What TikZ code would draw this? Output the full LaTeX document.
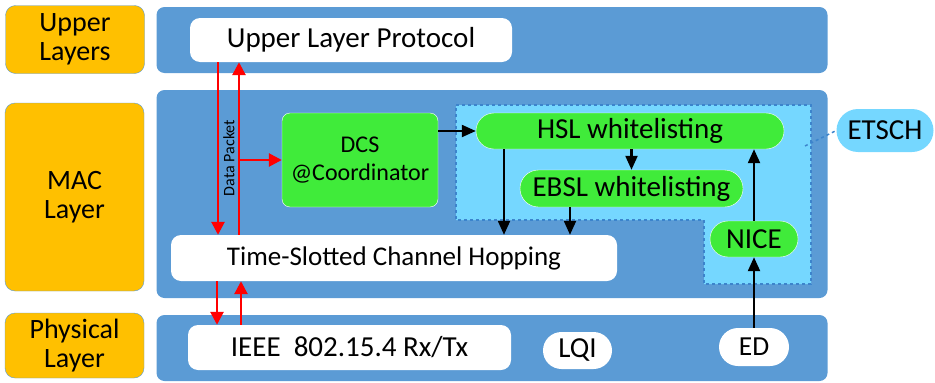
\documentclass[tikz,border=0pt]{standalone}
\usepackage{fontspec}
\setmainfont{Carlito}
\usetikzlibrary{positioning,arrows.meta,calc,shapes.misc}
\definecolor{bandblue}{HTML}{5B9BD5}
\definecolor{layerorange}{HTML}{FFC000}
\definecolor{wlgreen}{HTML}{40EB3A}
\definecolor{zoneblue}{HTML}{75D7FF}
\definecolor{zoneedge}{HTML}{3C84CC}
\tikzset{
  layer/.style={rectangle,rounded corners=10pt,draw=bandblue,fill=layerorange,thin,minimum width=139pt,inner sep=0pt,align=center,font=\fontsize{28}{29}\selectfont},
  band/.style={rectangle,rounded corners=8pt,fill=bandblue,minimum width=671pt,inner sep=0pt},
  wbox/.style={rectangle,rounded corners=10pt,fill=white,inner sep=0pt,font=\fontsize{29}{30}\selectfont},
  wpill/.style={rounded rectangle,fill=white,inner sep=0pt,font=\fontsize{29}{30}\selectfont},
  gbox/.style={rectangle,rounded corners=8pt,draw=white,fill=wlgreen,inner sep=0pt,align=center,font=\fontsize{24}{28}\selectfont},
  gpill/.style={rounded rectangle,draw=white,fill=wlgreen,inner sep=0pt,font=\fontsize{29}{30}\selectfont},
  zone/.style={fill=zoneblue,draw=zoneedge,dashed,line width=1.5pt},
  redarr/.style={-{Triangle[length=13pt,width=13pt]},red,line width=2.6pt},
  blkarr/.style={-{Triangle[length=14pt,width=12pt]},black,line width=2.2pt},
}

\begin{document}
\begin{tikzpicture}[x=1pt,y=-1pt]
  \useasboundingbox (0,0) rectangle (935,383);
  % layer labels
  \node[layer,minimum height=68pt] (upl) at (75,39.5) {Upper\\Layers};
  \node[layer,minimum height=188pt] (macl) at (74.5,197) {MAC\\Layer};
  \node[layer,minimum height=65pt] (phyl) at (74.5,345.5) {Physical\\Layer};
  % bands
  \node[band,minimum height=66pt] (upband) at (492,40) {};
  \node[band,minimum height=208pt] (macband) at (492,194) {};
  \node[band,minimum height=66pt] (phyband) at (492,348) {};
  % ETSCH zone
  \draw[zone] (456,105) -- (811,105) -- (811,284) -- (704,284) -- (704,220) -- (456,220) -- cycle;
  \coordinate (zonept) at (805,146);
  % boxes
  \node[wbox,minimum width=322pt,minimum height=44pt] (ulp) at (351,40) {Upper Layer Protocol};
  \node[gbox,minimum width=156pt,minimum height=94pt] (dcs) at (360,160) {DCS\\@Coordinator};
  \node[gpill,minimum width=308pt,minimum height=36pt] (hsl) at (630,131) {HSL whitelisting};
  \node[gpill,minimum width=223pt,minimum height=37pt] (ebsl) at (631.5,188.5) {EBSL whitelisting};
  \node[gpill,minimum width=88pt,minimum height=36pt] (nice) at (754,239) {NICE};
  \node[wbox,minimum width=446pt,minimum height=46pt,font=\fontsize{27}{28}\selectfont] (tsch) at (394,258) {Time-Slotted Channel Hopping};
  \node[wbox,minimum width=323pt,minimum height=45pt] (ieee) at (349.5,347.5) {IEEE\ \ 802.15.4 Rx/Tx};
  \node[wpill,minimum width=69pt,minimum height=37pt] (lqi) at (577.5,350.5) {LQI};
  \node[wpill,minimum width=70pt,minimum height=38pt,font=\fontsize{27.5}{28}\selectfont] (ed) at (754,347) {ED};
  \node[rounded rectangle,fill=zoneblue,inner sep=0pt,minimum width=97pt,minimum height=43pt,font=\fontsize{29}{30}\selectfont] (etsch) at (885,130.5) {ETSCH};
  \draw[zoneedge,dashed,line width=1.5pt] (zonept) -- (etsch.west);
  % red data path
  \coordinate (xdown) at (218,0);
  \coordinate (xup) at (239,0);
  \coordinate (xdown2) at (217,0);
  \coordinate (xup2) at (241,0);
  \draw[redarr] (ulp.south -| xdown) -- (tsch.north -| xdown);
  \draw[redarr] (tsch.north -| xup) -- (ulp.south -| xup);
  \draw[redarr] (dcs.west -| xup) -- (dcs.west);
  \draw[redarr] (tsch.south -| xdown2) -- (ieee.north -| xdown2);
  \draw[redarr] (ieee.north -| xup2) -- (tsch.south -| xup2);
  \node[rotate=90,font=\fontsize{16}{18}\selectfont,inner sep=0pt] (dpkt) at (229,158) {Data Packet};
  % black arrows
  \coordinate (xhsl) at (504,0);
  \coordinate (xebsl) at (570,0);
  \draw[blkarr] (dcs.east |- hsl.west) -- (hsl.west);
  \draw[blkarr] (hsl.south -| xhsl) -- (tsch.north -| xhsl);
  \draw[blkarr] (ebsl.south -| xebsl) -- (tsch.north -| xebsl);
  \draw[blkarr] (hsl.south -| ebsl.north) -- (ebsl.north);
  \draw[blkarr] (nice.north) -- (hsl.south -| nice.north);
  \draw[blkarr] (ed.north) -- (nice.south);
\end{tikzpicture}
\end{document}
